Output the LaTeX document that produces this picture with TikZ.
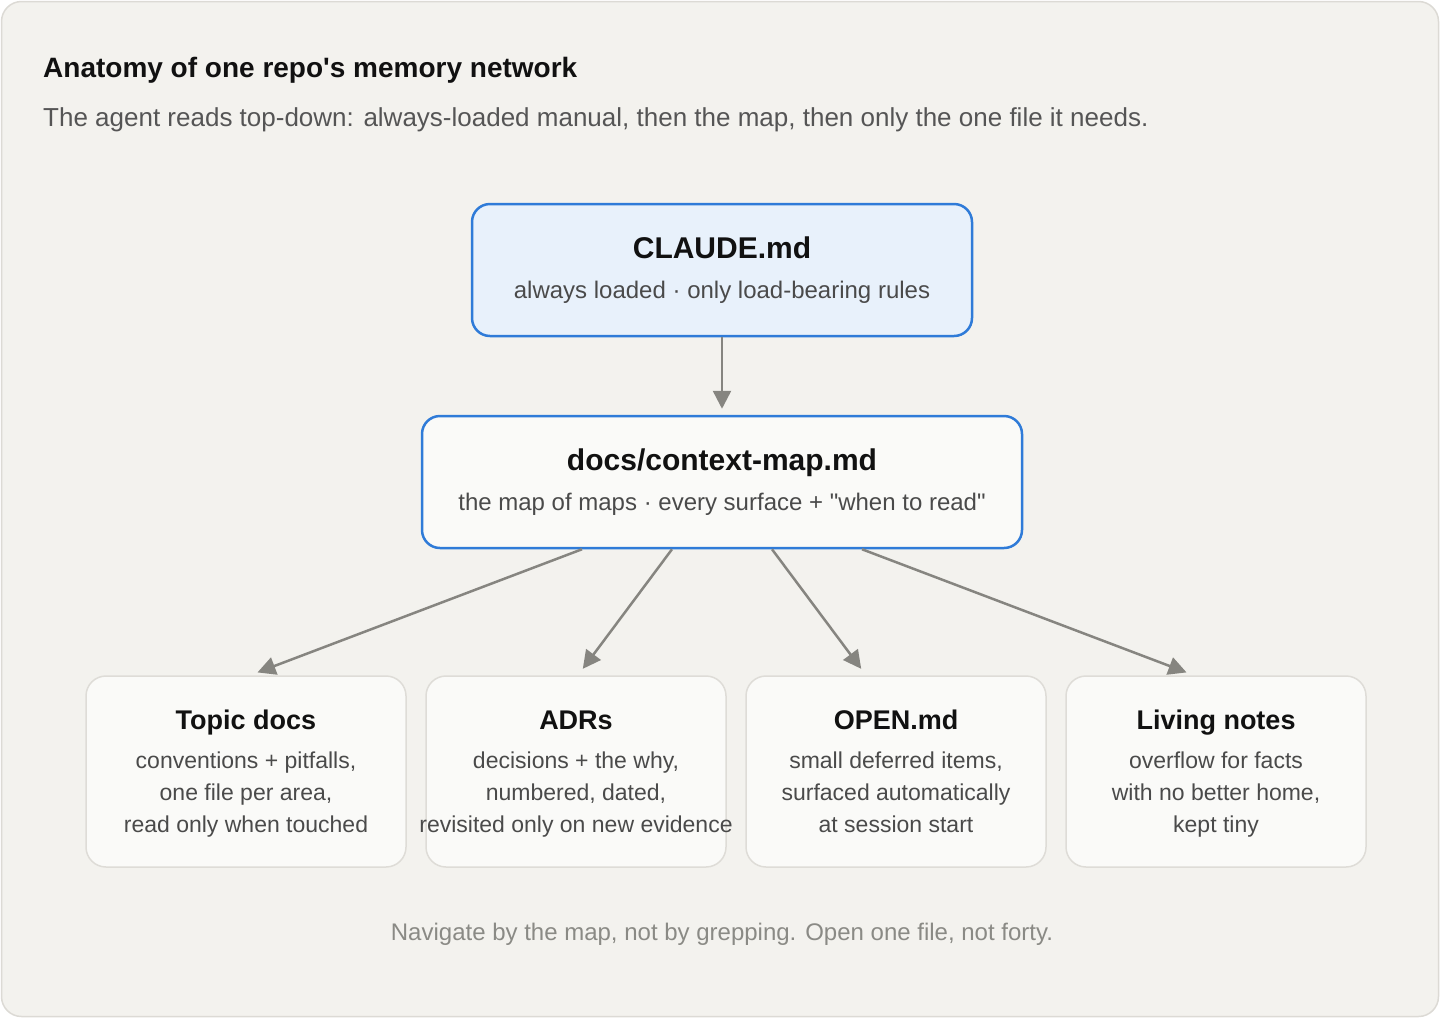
\documentclass[tikz,border=0pt]{standalone}
\usepackage{fontspec}
\setmainfont{Liberation Sans}[Ligatures=TeXOff]
\usetikzlibrary{arrows.meta,calc}
\definecolor{pagebg}{HTML}{F3F2EE}
\definecolor{frameline}{HTML}{DCDAD5}
\definecolor{accentblue}{HTML}{2F7BD8}
\definecolor{paleblue}{HTML}{E8F1FB}
\definecolor{cardfill}{HTML}{FAFAF8}
\definecolor{cardline}{HTML}{DEDCD7}
\definecolor{arrowgray}{HTML}{868580}
\definecolor{ink}{HTML}{111111}
\definecolor{bodyink}{HTML}{4A4A4A}
\definecolor{subink}{HTML}{555555}
\definecolor{footink}{HTML}{8A8A85}
\tikzset{
  framebox/.style={draw=frameline, fill=pagebg, line width=1.5pt, rounded corners=20pt, minimum width=1437pt, minimum height=1015pt, inner sep=0pt},
  mainbox/.style={draw=accentblue, line width=2.5pt, rounded corners=18pt, minimum height=132pt, inner sep=0pt},
  cardbox/.style={draw=cardline, fill=cardfill, line width=1.5pt, rounded corners=20pt, minimum width=300pt, minimum height=191pt, inner sep=0pt},
  maintitle/.style={anchor=base, inner sep=0pt, text=ink, font=\fontsize{30}{34}\selectfont\bfseries},
  maintext/.style={anchor=base, inner sep=0pt, text=bodyink, font=\fontsize{24}{28}\selectfont},
  boxtitle/.style={anchor=base, inner sep=0pt, text=ink, font=\fontsize{27}{32}\selectfont\bfseries},
  boxtext/.style={anchor=base, inner sep=0pt, text=bodyink, font=\fontsize{23}{28}\selectfont},
  arr/.style={draw=arrowgray, line width=2.5pt, -{Triangle[length=18pt,width=18pt]}},
}
\begin{document}
\begin{tikzpicture}[x=1pt,y=-1pt]
\useasboundingbox (0,0) rectangle (1440,1018);
\node[framebox] (frame) at (720,509) {};

\node[anchor=base west, inner sep=0pt, text=ink, font=\fontsize{28}{32}\selectfont\bfseries] (title) at (43,77) {Anatomy of one repo's memory network};
\node[anchor=base west, inner sep=0pt, text=subink, font=\fontsize{26}{30}\selectfont] (subtitle) at (43,126) {The agent reads top-down: always-loaded manual, then the map, then only the one file it needs.};

\node[mainbox, fill=paleblue, minimum width=500pt] (claude) at (722,270) {};
\node[maintitle] (claudeT) at (722,258) {CLAUDE.md};
\node[maintext] (claudeS) at (722,298) {always loaded · only load-bearing rules};

\node[mainbox, fill=cardfill, minimum width=600pt] (context) at (722,482) {};
\node[maintitle] (contextT) at (722,470) {docs/context-map.md};
\node[maintext] (contextS) at (722,510) {the map of maps · every surface + "when to read"};

\node[cardbox, minimum width=320pt] (topic) at (246,771.5) {};
\node[cardbox] (adrs) at (576,771.5) {};
\node[cardbox] (open) at (896,771.5) {};
\node[cardbox] (living) at (1216,771.5) {};

\node[boxtitle] (topicT) at (246,729) {Topic docs};
\node[boxtext] (topic1) at (246,768) {conventions + pitfalls,};
\node[boxtext] (topic2) at (246,800) {one file per area,};
\node[boxtext] (topic3) at (246,832) {read only when touched};

\node[boxtitle] (adrsT) at (576,729) {ADRs};
\node[boxtext] (adrs1) at (576,768) {decisions + the why,};
\node[boxtext] (adrs2) at (576,800) {numbered, dated,};
\node[boxtext] (adrs3) at (576,832) {revisited only on new evidence};

\node[boxtitle] (openT) at (896,729) {OPEN.md};
\node[boxtext] (open1) at (896,768) {small deferred items,};
\node[boxtext] (open2) at (896,800) {surfaced automatically};
\node[boxtext] (open3) at (896,832) {at session start};

\node[boxtitle] (livingT) at (1216,729) {Living notes};
\node[boxtext] (living1) at (1216,768) {overflow for facts};
\node[boxtext] (living2) at (1216,800) {with no better home,};
\node[boxtext] (living3) at (1216,832) {kept tiny};

\node[anchor=base, inner sep=0pt, text=footink, font=\fontsize{24}{28}\selectfont] (foot) at (722,940) {Navigate by the map, not by grepping. Open one file, not forty.};

\draw[arr, shorten >=6pt] (claude.south) -- (context.north);
\draw[arr, shorten >=8pt] ($(context.south)+(-140,0)$) -- ($(topic.north)+(4,0)$);
\draw[arr, shorten >=8pt] ($(context.south)+(-50,0)$) -- ($(adrs.north)+(2,0)$);
\draw[arr, shorten >=8pt] ($(context.south)+(50,0)$) -- ($(open.north)+(-30,0)$);
\draw[arr, shorten >=8pt] ($(context.south)+(140,0)$) -- ($(living.north)+(-22,0)$);
\end{tikzpicture}
\end{document}
